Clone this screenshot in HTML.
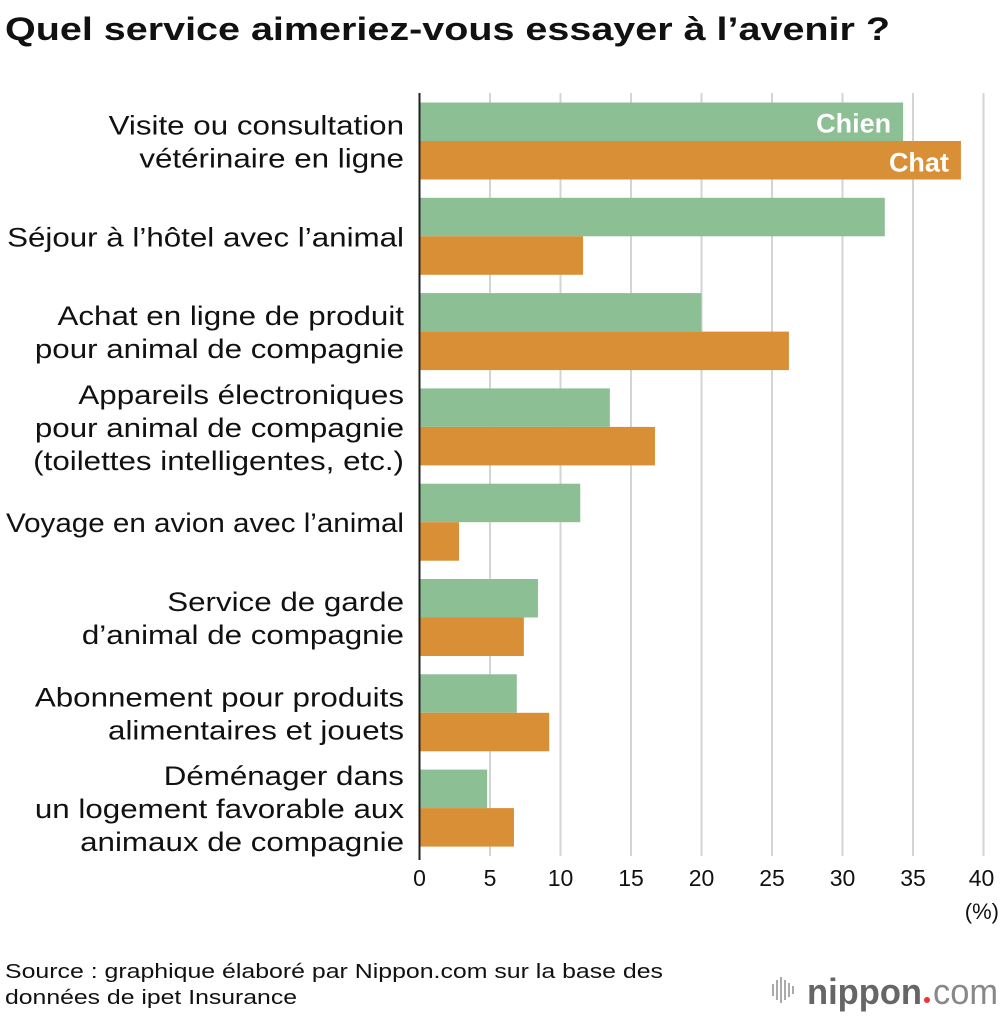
<!DOCTYPE html>
<html><head><meta charset="utf-8"><style>
body{margin:0;width:1000px;height:1014px;background:#fff;overflow:hidden;font-family:"Liberation Sans",sans-serif;}
</style></head><body>
<svg width="1000" height="1014" xmlns="http://www.w3.org/2000/svg" style="font-family:'Liberation Sans',sans-serif">
<text x="5" y="40" font-size="32" font-weight="bold" fill="#111" textLength="885" lengthAdjust="spacingAndGlyphs">Quel service aimeriez-vous essayer à l’avenir ?</text>
<g id="grid"></g><g id="bars"></g><g id="labels"></g><g id="ticks"></g>
<line x1="419.5" y1="93" x2="419.5" y2="860" stroke="#222" stroke-width="2"/>
<text x="999" y="919" font-size="22" text-anchor="end" fill="#111">(%)</text>
<text x="5" y="978" font-size="20" fill="#111" textLength="658" lengthAdjust="spacingAndGlyphs">Source : graphique élaboré par Nippon.com sur la base des</text>
<text x="5" y="1004" font-size="20" fill="#111" textLength="292" lengthAdjust="spacingAndGlyphs">données de ipet Insurance</text>
<g>
<g stroke="#aaa" stroke-width="2"><line x1="773" y1="984" x2="773" y2="996"/><line x1="777" y1="980" x2="777" y2="1000"/><line x1="781" y1="977" x2="781" y2="1003"/><line x1="785" y1="980" x2="785" y2="1000"/><line x1="789" y1="983" x2="789" y2="997"/><line x1="793" y1="986" x2="793" y2="994"/></g>
<text x="807" y="1004" font-size="36" font-weight="bold" fill="#666" textLength="115" lengthAdjust="spacingAndGlyphs">nippon</text>
<circle cx="927" cy="1000" r="3" fill="#e33"/>
<text x="933" y="1004" font-size="36" fill="#888" textLength="65" lengthAdjust="spacingAndGlyphs">com</text>
</g>
</svg>
<script>
const categories=[["Visite ou consultation","vétérinaire en ligne"],["Séjour à l’hôtel avec l’animal"],["Achat en ligne de produit","pour animal de compagnie"],["Appareils électroniques","pour animal de compagnie","(toilettes intelligentes, etc.)"],["Voyage en avion avec l’animal"],["Service de garde","d’animal de compagnie"],["Abonnement pour produits","alimentaires et jouets"],["Déménager dans","un logement favorable aux","animaux de compagnie"]];
const chien=[34.3,33.0,20.0,13.5,11.4,8.4,6.9,4.8];
const chat=[38.4,11.6,26.2,16.7,2.8,7.4,9.2,6.7];
const ticks=[0,5,10,15,20,25,30,35,40];
const NS="http://www.w3.org/2000/svg";
const x=v=>419.5+v*14.1;
const y0=i=>102.5+i*95.3;
function mk(t,a,p){const e=document.createElementNS(NS,t);for(const k in a)e.setAttribute(k,a[k]);document.getElementById(p).appendChild(e);return e;}
ticks.forEach(t=>{
 if(t>0){const g=mk('line',{x1:x(t),x2:x(t),y1:93,y2:856,stroke:'#d4d4d4','stroke-width':2},'grid');
 
 }
 const tx=mk('text',{x:t==40?x(t)-2:x(t),y:886,'font-size':23,'text-anchor':'middle',fill:'#111'},'ticks');tx.textContent=t;
 
 
});
categories.forEach((c,i)=>{
 const b1=mk('rect',{x:420.5,y:y0(i),width:x(chien[i])-420.5,height:38.5,fill:'#8dbf94'},'bars');
 
 
 const b2=mk('rect',{x:420.5,y:y0(i)+38.5,width:x(chat[i])-420.5,height:38.5,fill:'#d98f36'},'bars');
 
 
 const mid=y0(i)+38.5, lh=33, n=c.length;
 c.forEach((l,j)=>{
  const t=mk('text',{x:404,y:mid+(j-(n-1)/2)*lh+10,'font-size':27,'text-anchor':'end',fill:'#111'},'labels');t.textContent=l;
  
  
  const w=t.getComputedTextLength();
  t.setAttribute('textLength',Math.min(w*1.16,398));
  t.setAttribute('lengthAdjust','spacingAndGlyphs');
 });
 if(i==0){
  const a=mk('text',{x:x(chien[0])-12,y:y0(0)+30,'font-size':27,'font-weight':'bold','text-anchor':'end',fill:'#fff'},'bars');a.textContent='Chien';
  
  
  const b=mk('text',{x:x(chat[0])-12,y:y0(0)+69,'font-size':27,'font-weight':'bold','text-anchor':'end',fill:'#fff'},'bars');b.textContent='Chat';
  
  
 }
});
</script>
</body></html>
